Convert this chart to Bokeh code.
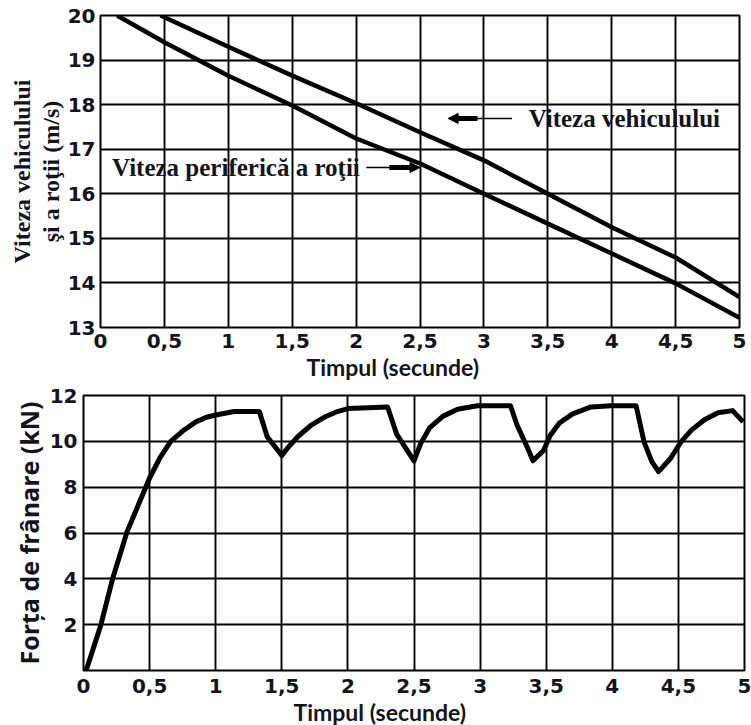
from bokeh.plotting import figure
from bokeh.models import FixedTicker, Label, Arrow, NormalHead, LinearAxis, Title
from bokeh.embed import file_html
from bokeh.resources import INLINE

# ---------------- data ----------------
x_ticks = [0, 0.5, 1, 1.5, 2, 2.5, 3, 3.5, 4, 4.5, 5]
x_tick_labels = ["0", "0,5", "1", "1,5", "2", "2,5", "3", "3,5", "4", "4,5", "5"]
speed_ticks = [13, 14, 15, 16, 17, 18, 19, 20]
force_ticks = [2, 4, 6, 8, 10, 12]

t_vehicle = [0.47, 1.0, 1.5, 2.0, 2.5, 3.0, 3.5, 4.0, 4.5, 5.0]
v_vehicle = [20.0, 19.3, 18.65, 18.03, 17.38, 16.75, 16.0, 15.25, 14.57, 13.68]

t_wheel = [0.13, 0.5, 1.0, 1.5, 2.0, 2.5, 3.0, 3.5, 4.0, 4.5, 5.0]
v_wheel = [20.0, 19.4, 18.65, 17.98, 17.24, 16.68, 16.0, 15.33, 14.66, 13.99, 13.22]

t_force = [0.02, 0.13, 0.22, 0.33, 0.42, 0.5, 0.58, 0.66, 0.75, 0.85, 0.93, 1.0, 1.14,
           1.33, 1.39, 1.5,
           1.55, 1.62, 1.72, 1.82, 1.92, 2.0, 2.3, 2.37, 2.5,
           2.55, 2.62, 2.72, 2.83, 2.98, 3.23, 3.28, 3.36, 3.4, 3.48,
           3.53, 3.6, 3.7, 3.84, 3.99, 4.18, 4.24, 4.3, 4.35,
           4.44, 4.52, 4.6, 4.7, 4.8, 4.91, 4.99]
f_force = [0.0, 1.96, 4.0, 6.06, 7.3, 8.4, 9.3, 10.0, 10.45, 10.85, 11.05, 11.15, 11.3,
           11.3, 10.2, 9.38,
           9.75, 10.2, 10.7, 11.05, 11.3, 11.43, 11.5, 10.3, 9.15,
           9.9, 10.6, 11.1, 11.4, 11.55, 11.55, 10.7, 9.7, 9.15, 9.6,
           10.25, 10.8, 11.2, 11.5, 11.55, 11.55, 9.98, 9.1, 8.68,
           9.25, 9.98, 10.5, 10.95, 11.25, 11.34, 10.85]

label_vehicle = "Viteza vehiculului"
label_wheel = "Viteza periferică a roţii"
ylabel_top_1 = "Viteza vehiculului"
ylabel_top_2 = "şi a roţii (m/s)"
xlabel = "Timpul (secunde)"
ylabel_bottom = "Forța de frânare (kN)"

TXT = "#14141f"
TICK_FONT = "DejaVu Sans"
SERIF = "Liberation Serif"
SANS = "Lato"


def style(p, yticks, tick_standoff_x, tick_standoff_y):
    p.xaxis.ticker = FixedTicker(ticks=x_ticks)
    p.xaxis.major_label_overrides = {t: s for t, s in zip(x_ticks, x_tick_labels)}
    p.yaxis.ticker = FixedTicker(ticks=yticks)
    p.xgrid.ticker = FixedTicker(ticks=x_ticks)
    p.ygrid.ticker = FixedTicker(ticks=yticks)
    for ax in (p.xaxis[0], p.yaxis[0]):
        ax.axis_line_color = None
        ax.major_tick_out = 0
        ax.major_tick_in = 0
        ax.minor_tick_out = 0
        ax.minor_tick_in = 0
        ax.major_label_text_font = TICK_FONT
        ax.major_label_text_font_style = "bold"
        ax.major_label_text_font_size = "20px"
        ax.major_label_text_color = TXT
        ax.axis_label_text_color = TXT
        ax.axis_label_text_font_style = "bold"
    p.xaxis.major_label_standoff = tick_standoff_x
    p.yaxis.major_label_standoff = tick_standoff_y
    for g in (p.xgrid[0], p.ygrid[0]):
        g.grid_line_color = "black"
        g.grid_line_width = 1.9
        g.grid_line_alpha = 1.0
    p.outline_line_color = "black"
    p.outline_line_width = 2
    p.outline_line_alpha = 1.0
    p.background_fill_color = "white"
    p.border_fill_color = "white"


def xtitle(offset):
    return Title(text=xlabel, align="left", offset=offset, standoff=0,
                 text_font=SANS, text_font_size="23px", text_font_style="bold",
                 text_color=TXT)


# ---------------- top chart ----------------
p1 = figure(frame_width=639, frame_height=312, x_range=(0, 5), y_range=(13, 20),
            output_backend="svg", toolbar_location=None,
            min_border_left=100, min_border_right=12, min_border_top=15, min_border_bottom=0)
style(p1, speed_ticks, 6, 5)
p1.add_layout(xtitle(206), "below")

p1.yaxis.axis_label = ylabel_top_2
p1.yaxis.axis_label_text_font = SERIF
p1.yaxis.axis_label_text_font_size = "24px"
p1.yaxis.axis_label_standoff = 1

outer = LinearAxis(ticker=FixedTicker(ticks=[]), axis_line_color=None,
                   major_tick_out=0, major_tick_in=0, minor_tick_out=0, minor_tick_in=0,
                   axis_label=ylabel_top_1, axis_label_text_font=SERIF,
                   axis_label_text_font_style="bold", axis_label_text_font_size="24px",
                   axis_label_text_color=TXT, axis_label_standoff=0)
p1.add_layout(outer, "left")

p1.line(t_vehicle, v_vehicle, line_color="black", line_width=4.5, line_join="round")
p1.line(t_wheel, v_wheel, line_color="black", line_width=4.5, line_join="round")

ann_vehicle_x, ann_vehicle_y = 3.35, 17.69
ann_wheel_x, ann_wheel_y = 0.09, 16.59

p1.add_layout(Label(x=ann_vehicle_x, y=ann_vehicle_y, text=label_vehicle,
                    text_font=SERIF, text_font_style="bold", text_font_size="25px",
                    text_color=TXT, text_baseline="middle", text_align="left"))
p1.add_layout(Label(x=ann_wheel_x, y=ann_wheel_y, text=label_wheel,
                    text_font=SERIF, text_font_style="bold", text_font_size="25px",
                    text_color=TXT, text_baseline="middle", text_align="left"))

# vehicle arrow (points left)
p1.add_layout(Arrow(x_start=3.22, y_start=ann_vehicle_y, x_end=2.72, y_end=ann_vehicle_y,
                    line_width=1.5, line_color="black",
                    end=NormalHead(size=10, fill_color="black", line_color="black")))
p1.add_layout(Arrow(x_start=2.95, y_start=ann_vehicle_y, x_end=2.78, y_end=ann_vehicle_y,
                    line_width=5, line_color="black", end=None))
# wheel arrow (points right)
p1.add_layout(Arrow(x_start=2.08, y_start=ann_wheel_y, x_end=2.50, y_end=ann_wheel_y,
                    line_width=1.5, line_color="black",
                    end=NormalHead(size=10, fill_color="black", line_color="black")))
p1.add_layout(Arrow(x_start=2.26, y_start=ann_wheel_y, x_end=2.44, y_end=ann_wheel_y,
                    line_width=5, line_color="black", end=None))

# ---------------- bottom chart ----------------
p2 = figure(frame_width=661, frame_height=275, x_range=(0, 5), y_range=(0, 12),
            output_backend="svg", toolbar_location=None,
            min_border_left=83, min_border_right=7, min_border_top=15, min_border_bottom=0)
style(p2, force_ticks, 8, 6)
p2.add_layout(xtitle(210), "below")

p2.yaxis.axis_label = ylabel_bottom
p2.yaxis.axis_label_text_font = "Open Sans"
p2.yaxis.axis_label_text_font_size = "25px"
p2.yaxis.axis_label_standoff = 1

p2.line(t_force, f_force, line_color="black", line_width=5, line_join="round")

open("out.html", "w").write(file_html([p1, p2], INLINE))
